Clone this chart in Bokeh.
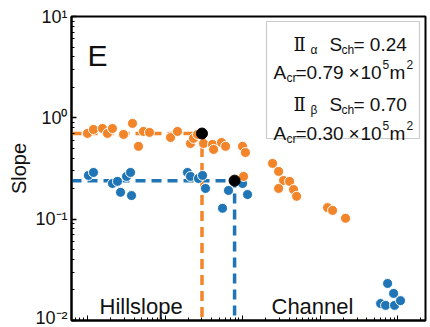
import math
from bokeh.plotting import figure
from bokeh.models import Label, BoxAnnotation, CustomJSTickFormatter, LogTicker, Range1d
from bokeh.embed import file_html
from bokeh.resources import INLINE

# ---------------- data ----------------
blue_area = [1030, 1195, 2100, 2440, 2670, 3190, 3590, 3700, 19500, 21300,
             27000, 30500, 33300, 55200, 65900, 100000, 116000,
             6.04e6, 7.0e6, 7.43e6, 8.88e6, 9.14e6, 1.09e7]
blue_slope = [0.270, 0.289, 0.225, 0.236, 0.184, 0.264, 0.289, 0.171, 0.289, 0.264,
              0.252, 0.270, 0.201, 0.128, 0.192, 0.225, 0.175,
              0.0147, 0.0141, 0.0232, 0.0185, 0.0141, 0.0157]

orange_area = [1000, 1195, 1560, 1810, 2100, 2920, 3810, 4550, 5280, 6310,
               11800, 14500, 21300, 23300, 26300, 31400, 41000, 42300, 53600, 60400,
               100000, 109000, 103000, 244000, 292000, 338000, 404000, 292000, 455000, 498000,
               1.25e6, 1.45e6, 2.13e6]
orange_slope = [0.702, 0.767, 0.785, 0.702, 0.785, 0.686, 0.881, 0.523, 0.734, 0.718,
                0.640, 0.734, 0.558, 0.627, 0.686, 0.558, 0.546, 0.488, 0.571, 0.523,
                0.523, 0.455, 0.264, 0.355, 0.296, 0.241, 0.236, 0.201, 0.196, 0.168,
                0.130, 0.122, 0.102]

s_ch = [0.24, 0.70]          # alpha, beta
a_cr = [0.79e5, 0.30e5]      # m^2
y_ticks = [0.01, 0.1, 1, 10]

BLUE = "#1f75b5"
ORANGE = "#f2842a"
INK = "#111111"

# ---------------- geometry helpers ----------------
LX0, LX1 = 2.794, 7.36
LY0, LY1 = -2.0, 1.0
FL, FR, FT, FB = 71, 425, 16, 320


def dx(px):
    return 10 ** (LX0 + (px - FL) / (FR - FL) * (LX1 - LX0))


def dy(py):
    return 10 ** (LY0 + (FB - py) / (FB - FT) * (LY1 - LY0))


p = figure(width=430, height=327, x_axis_type="log", y_axis_type="log",
           x_range=Range1d(10 ** LX0, 10 ** LX1), y_range=Range1d(10 ** LY0, 10 ** LY1),
           output_backend="svg", toolbar_location=None,
           min_border_left=FL, min_border_right=430 - FR, min_border_top=FT,
           min_border_bottom=327 - FB)
p.grid.visible = False
p.outline_line_color = "black"
p.outline_line_width = 2
p.background_fill_color = "white"
p.border_fill_color = "white"

FONT = "Liberation Sans"

ya = p.yaxis[0]
ya.ticker = LogTicker(num_minor_ticks=10)
ya.major_tick_in = 5
ya.major_tick_out = 0
ya.minor_tick_in = 3
ya.minor_tick_out = 0
ya.axis_line_width = 2
ya.major_tick_line_width = 1.5
ya.major_label_text_font = FONT
ya.major_label_text_font_size = "18px"
ya.major_label_text_color = INK
ya.major_label_standoff = 4
ya.formatter = CustomJSTickFormatter(code="""
const e = Math.round(Math.log10(tick));
const m = {"-":"\u207B","0":"\u2070","1":"\u00B9","2":"\u00B2","3":"\u00B3","4":"\u2074",
           "5":"\u2075","6":"\u2076","7":"\u2077","8":"\u2078","9":"\u2079"};
return "10" + String(e).split("").map(c => m[c]).join("");
""")
ya.axis_label = "Slope"
ya.axis_label_text_font = FONT
ya.axis_label_text_font_size = "20px"
ya.axis_label_text_font_style = "normal"
ya.axis_label_text_color = INK
ya.axis_label_standoff = 2

xa = p.xaxis[0]
xa.ticker = LogTicker(num_minor_ticks=10)
xa.major_tick_in = 5
xa.major_tick_out = 0
xa.minor_tick_in = 3
xa.minor_tick_out = 0
xa.axis_line_width = 2
xa.major_label_text_font_size = "0px"
xa.major_label_standoff = 0
xa.formatter = CustomJSTickFormatter(code="return '';")

# dashed guide lines
for sc, ac, col in zip(s_ch, a_cr, [BLUE, ORANGE]):
    p.line([10 ** LX0, ac, ac], [sc, sc, 10 ** LY0], line_color=col,
           line_width=3.5, line_dash="10 6")

p.scatter(blue_area, blue_slope, size=10, fill_color=BLUE, line_color="white", line_width=1)
p.scatter(orange_area, orange_slope, size=10, fill_color=ORANGE, line_color="white", line_width=1)
p.scatter(a_cr, s_ch, size=11, fill_color="black", line_color="black")


def lab(text, px, py, size="19px", font=FONT):
    p.add_layout(Label(x=dx(px), y=dy(py), text=text, text_font=font,
                       text_font_size=size, text_baseline="alphabetic",
                       text_align="left", text_color=INK))


lab("E", 87, 55, "30px")
lab("Hillslope", 99, 306, "22px")
lab("Channel", 271, 306, "22px")

# legend box
p.add_layout(BoxAnnotation(left=dx(266), right=dx(419), top=dy(21), bottom=dy(138),
                           fill_color="white", fill_alpha=1, line_color="#555555",
                           line_width=1.2))
p.scatter([dx(277), dx(277)], [dy(37), dy(97)], size=8, fill_color=[BLUE, ORANGE],
          line_color=None)

for (base1, base2, sub, val, area) in [(44, 72, "\u03b1", "= 0.24", "=0.79"),
                                       (104, 133, "\u03b2", "= 0.70", "=0.30")]:
    lab("\u2161", 293, base1, "18px", "DejaVu Serif")
    lab(sub, 310, base1 + 5, "12px")
    lab("S", 329, base1)
    lab("ch", 341, base1 + 5, "12px")
    lab(val, 353, base1)
    lab("A", 273, base2)
    lab("cr", 286, base2 + 5, "12px")
    lab(area, 295, base2)
    lab("\u00d7", 348, base2)
    lab("10", 360, base2)
    lab("5", 382, base2 - 8, "12px")
    lab("m", 389, base2)
    lab("2", 406, base2 - 8, "12px")

open("out.html", "w").write(file_html(p, INLINE))
